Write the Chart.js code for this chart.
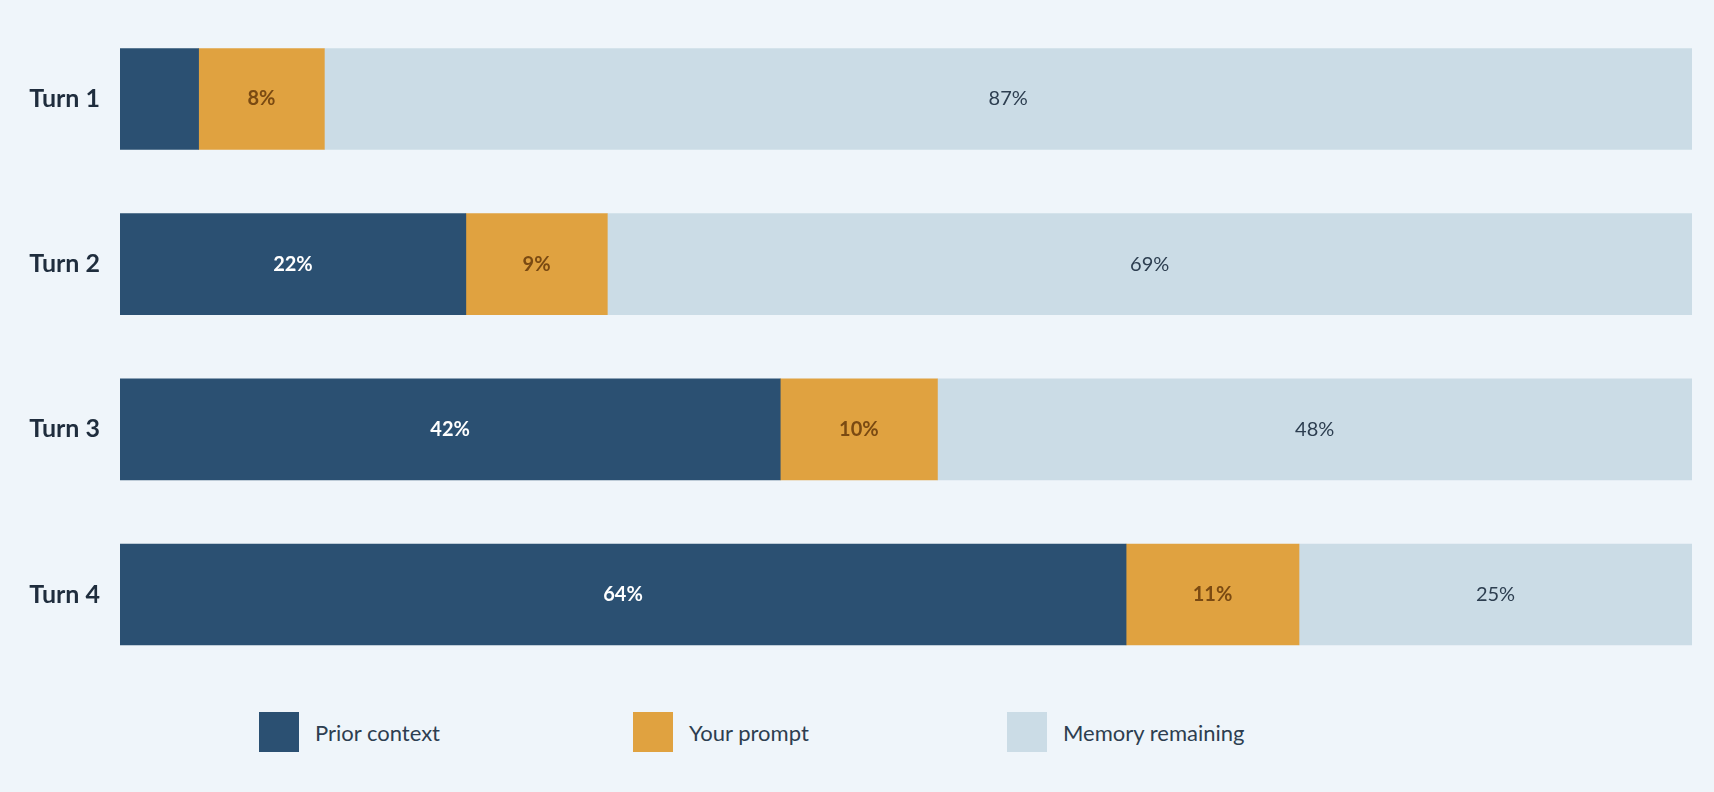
<!DOCTYPE html>
<html><head><meta charset="utf-8">
<script src="https://cdn.jsdelivr.net/npm/chart.js@4"></script>
<style>
html,body{margin:0;padding:0;background:#eff5fa;width:1714px;height:792px;overflow:hidden;font-family:Lato,"Open Sans",sans-serif}
#wrap{position:absolute;left:0;top:0;width:1714px;height:700px}
#legend{position:absolute;top:712px;left:0;width:1714px;height:42px;font-size:22px;color:#2d3e50}
.li{position:absolute;display:flex;align-items:center;height:40px}
.sw{width:40px;height:40px;margin-right:16px}
</style></head><body>
<div id="wrap"><canvas id="c"></canvas></div>
<div id="legend"></div>
<script>
const turns = ["Turn 1","Turn 2","Turn 3","Turn 4"];
const priorContext = [5,22,42,64];
const yourPrompt = [8,9,10,11];
const memoryRemaining = [87,69,48,25];
const seriesNames = ["Prior context","Your prompt","Memory remaining"];
const colors = ["#2b5072","#e0a240","#cbdce6"];
const labelColors = ["#ffffff","#7a4a12","#2d3e50"];
const labelWeights = ["bold","bold","normal"];

const mk = arr => arr.map((v,i)=>({x:v,y:i}));
const sets = [priorContext,yourPrompt,memoryRemaining].map((a,k)=>({
  label:seriesNames[k], data:mk(a), backgroundColor:colors[k], borderWidth:0, barThickness:101
}));

const labelPlugin = {id:'lbl', afterDatasetsDraw(chart){
  const ctx=chart.ctx;
  chart.data.datasets.forEach((ds,k)=>{
    chart.getDatasetMeta(k).data.forEach((el,i)=>{
      const v=ds.data[i].x; if(v<7) return;
      const cx=(el.x+el.base)/2;
      ctx.save();ctx.fillStyle=labelColors[k];
      ctx.font=labelWeights[k]+' 20px Lato, "Open Sans", sans-serif';
      ctx.textAlign='center';ctx.textBaseline='middle';
      ctx.fillText(v+'%',cx,el.y);ctx.restore();
    });
  });
}};

new Chart(document.getElementById('c'),{
  type:'bar',
  data:{datasets:sets},
  options:{
    indexAxis:'y', responsive:true, maintainAspectRatio:false, animation:false,
    layout:{padding:{left:0,right:22,top:0,bottom:0}},
    plugins:{legend:{display:false},tooltip:{enabled:false}},
    scales:{
      x:{type:'linear',stacked:true,min:0,max:100,display:false,offset:false},
      y:{type:'linear',stacked:true,reverse:true,min:-0.436,max:3.475,offset:false,grace:0,
        grid:{display:false,offset:false},border:{display:false},
        afterBuildTicks:s=>{s.ticks=turns.map((t,i)=>({value:i}));},
        afterFit:s=>{s.width=120;},
        ticks:{padding:12,color:'#1f2d3d',font:{size:25,weight:'bold',family:'Lato, "Open Sans", sans-serif'},
          callback:v=>turns[v]??''}
      }
    }
  },
  plugins:[labelPlugin]
});

const lg=document.getElementById('legend');
const lx=[259,633,1007];
seriesNames.forEach((n,k)=>{
  const d=document.createElement('div');d.className='li';d.style.left=lx[k]+'px';
  d.innerHTML='<div class="sw" style="background:'+colors[k]+'"></div><span>'+n+'</span>';
  lg.appendChild(d);
});
</script>
</body></html>
